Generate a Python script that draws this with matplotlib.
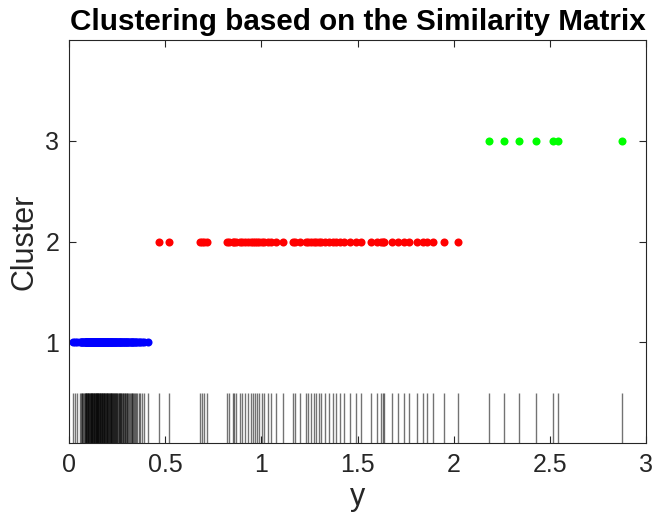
import matplotlib
matplotlib.use("Agg")
import matplotlib.pyplot as plt

cluster1 = [0.022, 0.031, 0.043, 0.057, 0.063, 0.067, 0.07, 0.074, 0.078, 0.081, 0.083, 0.086,
            0.088, 0.09, 0.092, 0.095, 0.097, 0.099, 0.10, 0.103, 0.105, 0.108, 0.11, 0.112,
            0.113, 0.116, 0.118, 0.12, 0.121, 0.123, 0.125, 0.128, 0.13, 0.132, 0.134, 0.136,
            0.138, 0.14, 0.142, 0.144, 0.146, 0.148, 0.15, 0.152, 0.153, 0.155, 0.157, 0.159,
            0.161, 0.163, 0.165, 0.168, 0.17, 0.172, 0.174, 0.176, 0.178, 0.18, 0.182, 0.184,
            0.186, 0.188, 0.19, 0.193, 0.195, 0.197, 0.199, 0.202, 0.204, 0.207, 0.209, 0.211,
            0.213, 0.216, 0.218, 0.22, 0.222, 0.225, 0.227, 0.23, 0.232, 0.235, 0.238, 0.24,
            0.243, 0.246, 0.249, 0.252, 0.255, 0.258, 0.26, 0.263, 0.266, 0.269, 0.272, 0.276,
            0.279, 0.282, 0.285, 0.289, 0.292, 0.296, 0.3, 0.304, 0.308, 0.312, 0.316, 0.32,
            0.325, 0.33, 0.335, 0.34, 0.345, 0.35, 0.355, 0.362, 0.37, 0.38, 0.39, 0.41]
cluster2 = [0.47, 0.52, 0.68, 0.69, 0.70, 0.72, 0.82, 0.83, 0.85, 0.86, 0.87, 0.89, 0.90,
            0.915, 0.93, 0.945, 0.955, 0.966, 0.979, 0.99, 1.004, 1.014, 1.035, 1.05, 1.076,
            1.115, 1.165, 1.174, 1.20, 1.23, 1.24, 1.26, 1.276, 1.285, 1.30, 1.31, 1.33, 1.35,
            1.37, 1.39, 1.41, 1.43, 1.46, 1.49, 1.52, 1.57, 1.60, 1.62, 1.63, 1.64, 1.68, 1.71,
            1.74, 1.77, 1.81, 1.84, 1.86, 1.89, 1.95, 2.02]
cluster3 = [2.184, 2.264, 2.339, 2.429, 2.518, 2.544, 2.877]
cluster_ids = [1, 2, 3]
cluster_colors = ["#0000ff", "#ff0000", "#00ff00"]
xticks = [0, 0.5, 1, 1.5, 2, 2.5, 3]
xticklabels = ["0", "0.5", "1", "1.5", "2", "2.5", "3"]
yticks = [1, 2, 3]

plt.rcParams['font.family'] = ['Liberation Sans', 'DejaVu Sans']
fig = plt.figure(figsize=(6.53, 5.25), dpi=100)
ax = fig.add_axes([0.1057, 0.1562, 0.8836, 0.7676])

axcol = (0.15, 0.15, 0.15)
allvals = cluster1 + cluster2 + cluster3
ax.vlines(allvals, 0, 0.5, colors="black", alpha=0.55, linewidth=1.0)

for vals, cid, col in zip([cluster1, cluster2, cluster3], cluster_ids, cluster_colors):
    ax.plot(vals, [cid] * len(vals), "o", color=col, markersize=5.8, markeredgewidth=0)

ax.set_xlim(0, 3)
ax.set_ylim(0, 4)
ax.set_xticks(xticks)
ax.set_xticklabels(xticklabels)
ax.set_yticks(yticks)
ax.tick_params(direction="in", top=True, right=True, labelsize=18, colors=axcol,
               length=5, width=0.8, pad=7)
for s in ax.spines.values():
    s.set_color(axcol)
    s.set_linewidth(0.8)
ax.set_xlabel("y", fontsize=22, color=axcol, labelpad=4)
ax.set_ylabel("Cluster", fontsize=22, color=axcol, labelpad=4)
ax.set_title("Clustering based on the Similarity Matrix", fontsize=21.3, fontweight="bold", pad=7)

fig.savefig("out.png", dpi=100)
